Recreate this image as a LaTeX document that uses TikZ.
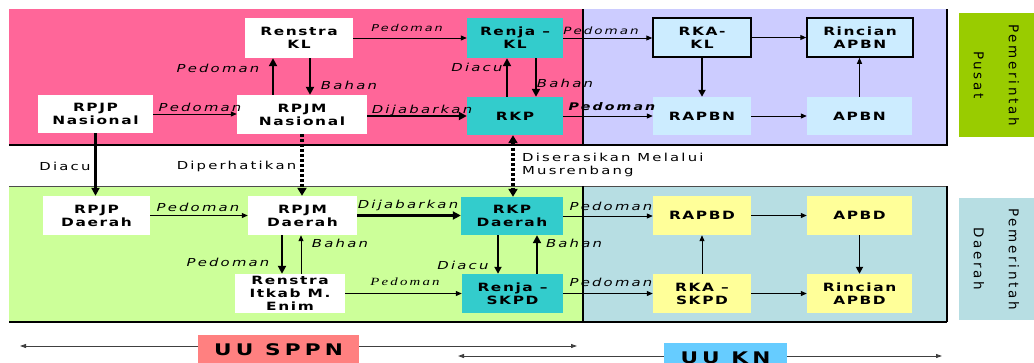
\documentclass[tikz,border=0pt]{standalone}
\usepackage{fontspec}
\setmainfont{DejaVu Sans}
\newfontfamily\bfam{DejaVu Sans}[FakeStretch=1.35,LetterSpace=14]
\newfontfamily\lfam{DejaVu Sans}[FakeStretch=1.35,LetterSpace=20]
\newfontfamily\sfam{Liberation Serif}[FakeStretch=1.35,LetterSpace=20]
\newfontfamily\ufam{DejaVu Sans}[FakeStretch=1.35,LetterSpace=26]
\newfontfamily\pfam{DejaVu Sans}[LetterSpace=20]
\usetikzlibrary{arrows.meta,calc}
\definecolor{cpink}{HTML}{FF6699}
\definecolor{clav}{HTML}{CCCCFF}
\definecolor{cgreen}{HTML}{CCFF99}
\definecolor{cblue}{HTML}{B7DEE3}
\definecolor{cteal}{HTML}{33CCCC}
\definecolor{clblue}{HTML}{CCECFF}
\definecolor{cyel}{HTML}{FFFF99}
\definecolor{cpusat}{HTML}{99CC00}
\definecolor{csppn}{HTML}{FF8080}
\definecolor{ckn}{HTML}{66CCFF}
\tikzset{
  box/.style={inner sep=0pt, align=center, font=\bfam\bfseries\fontsize{11.4}{13}\selectfont},
  wbox/.style={box, fill=white},
  tbox/.style={box, fill=cteal},
  lbbox/.style={box, fill=clblue},
  ybox/.style={box, fill=cyel},
  thn/.style={line width=1pt, -{Triangle[length=6pt,width=5pt]}},
  thm/.style={line width=1.8pt, -{Triangle[length=7pt,width=7pt]}},
  thk/.style={line width=2.6pt, -{Triangle[length=8pt,width=8pt]}},
  dotl/.style={line width=3.5pt, dash pattern=on 3pt off 2pt},
  lab/.style={inner sep=0pt, font=\lfam\itshape\fontsize{11}{13}\selectfont},
  slab/.style={inner sep=0pt, font=\lfam\itshape\fontsize{9.5}{11}\selectfont},
  reg/.style={inner sep=0pt, font=\lfam\fontsize{11}{13}\selectfont},
  law/.style={line width=0.9pt, draw=black!75, -{Triangle[length=6pt,width=4pt]}},
  pem/.style={rotate=-90, inner sep=0pt, align=center, font=\pfam\fontsize{13.5}{35}\selectfont},
}
\begin{document}
\begin{tikzpicture}[x=1pt,y=-1pt]
\useasboundingbox (0,0) rectangle (1034,362);
% panels
\fill[cpink] (9,9) rectangle (583,145);
\fill[clav] (583,9) rectangle (947,145);
\draw[line width=1.2pt] (9,145) -- (947,145) -- (947,9);
\draw[line width=2pt] (583,9) -- (583,145);
\fill[cgreen] (9,186) rectangle (583,322);
\fill[cblue] (583,186) rectangle (947,322);
\draw[line width=0.8pt, black!70] (9,186) -- (947,186);
\draw[line width=1.2pt] (9,322) -- (947,322);
\draw[line width=1.2pt] (947,186) -- (947,322);
\draw[line width=2pt] (583,186) -- (583,322);
% side labels
\node[pem, fill=cpusat, minimum width=124pt, minimum height=75pt] (pusat) at (996.5,75) {Pemerintah\\Pusat};
\node[pem, fill=cblue, minimum width=122pt, minimum height=75pt] (daerah) at (996.5,259) {Pemerintah\\Daerah};
% upper nodes
\node[wbox, minimum width=108pt, minimum height=40pt] (renstraKL) at (299,38) {Renstra\\KL};
\node[wbox, minimum width=115pt, minimum height=38pt] (rpjpN) at (95.5,114) {RPJP\\Nasional};
\node[wbox, minimum width=130pt, minimum height=39pt] (rpjmN) at (302,114.5) {RPJM\\Nasional};
\node[tbox, minimum width=96pt, minimum height=40pt] (renjaKL) at (515,38) {Renja –\\KL};
\node[tbox, minimum width=96pt, minimum height=38pt] (rkp) at (515,116) {RKP};
\node[lbbox, draw=black, line width=1.5pt, minimum width=98pt, minimum height=39pt] (rkaKL) at (702,37.5) {RKA-\\KL};
\node[lbbox, draw=black, line width=1.5pt, minimum width=106pt, minimum height=39pt] (rincN) at (860,37.5) {Rincian\\APBN};
\node[lbbox, minimum width=98pt, minimum height=38pt] (rapbn) at (702,116) {RAPBN};
\node[lbbox, minimum width=105pt, minimum height=38pt] (apbn) at (859.5,116) {APBN};
% lower nodes
\node[wbox, minimum width=107pt, minimum height=39pt] (rpjpD) at (96.5,215.5) {RPJP\\Daerah};
\node[wbox, minimum width=109pt, minimum height=39pt] (rpjmD) at (302.5,215.5) {RPJM\\Daerah};
\node[wbox, minimum width=110pt, minimum height=39pt] (renstraD) at (290,293.5) {Renstra\\Itkab M.\\Enim};
\node[tbox, minimum width=102pt, minimum height=38pt] (rkpD) at (512,216) {RKP\\Daerah};
\node[tbox, minimum width=101pt, minimum height=39pt] (renjaS) at (512.5,293.5) {Renja –\\SKPD};
\node[ybox, minimum width=98pt, minimum height=39pt] (rapbd) at (702,215.5) {RAPBD};
\node[ybox, minimum width=105pt, minimum height=39pt] (apbd) at (859.5,215.5) {APBD};
\node[ybox, minimum width=98pt, minimum height=39pt] (rkaS) at (702,293.5) {RKA –\\SKPD};
\node[ybox, minimum width=105pt, minimum height=39pt] (rincD) at (859.5,293.5) {Rincian\\APBD};
% upper connectors
\draw[thn] (rpjpN.east) -- (rpjpN.east -| rpjmN.west);
\draw[thk] ([xshift=-29pt]rpjmN.north) -- ([xshift=-29pt]rpjmN.north |- renstraKL.south);
\draw[thk] ([xshift=11pt]renstraKL.south) -- ([xshift=11pt]renstraKL.south |- rpjmN.north);
\draw[thn] (renstraKL.east) -- (renstraKL.east -| renjaKL.west);
\draw[thk] (rkp.west -| rpjmN.east) -- (rkp.west);
\draw[thk] ([xshift=-8pt]rkp.north) -- ([xshift=-8pt]rkp.north |- renjaKL.south);
\draw[thk] ([xshift=21pt]renjaKL.south) -- ([xshift=21pt]renjaKL.south |- rkp.north);
\draw[thn] (renjaKL.east) -- (renjaKL.east -| rkaKL.west);
\draw[thn] (rkp.east) -- (rkp.east -| rapbn.west);
\draw[thn] (rkaKL.east) -- (rkaKL.east -| rincN.west);
\draw[thm] (rkaKL.south) -- (rapbn.north);
\draw[thn] (rapbn.east) -- (rapbn.east -| apbn.west);
\draw[thn] (apbn.north) -- (apbn.north |- rincN.south);
% between
\draw[thk] (rpjpN.south) -- (rpjpN.south |- rpjpD.north);
\draw[dotl, -{Triangle[length=8pt,width=9pt]}] (rpjmN.south) -- (rpjmN.south |- rpjmD.north);
\draw[dotl, {Triangle[length=8pt,width=9pt]}-{Triangle[length=8pt,width=9pt]}] ([xshift=-2pt]rkp.south) -- ([xshift=-2pt]rkp.south |- rkpD.north);
% lower connectors
\draw[thn] (rpjpD.east) -- (rpjpD.east -| rpjmD.west);
\draw[thk] (rpjmD.east) -- (rpjmD.east -| rkpD.west);
\draw[thk] ([xshift=-20.5pt]rpjmD.south) -- ([xshift=-20.5pt]rpjmD.south |- renstraD.north);
\draw[thn] ([xshift=11pt]renstraD.north) -- ([xshift=11pt]renstraD.north |- rpjmD.south);
\draw[thn] (renstraD.east) -- (renstraD.east -| renjaS.west);
\draw[thm] ([xshift=-14pt]rkpD.south) -- ([xshift=-14pt]rkpD.south |- renjaS.north);
\draw[thk] ([xshift=24.5pt]renjaS.north) -- ([xshift=24.5pt]renjaS.north |- rkpD.south);
\draw[thn] (rkpD.east) -- (rkpD.east -| rapbd.west);
\draw[thn] (renjaS.east) -- (renjaS.east -| rkaS.west);
\draw[thn] (rapbd.east) -- (rapbd.east -| apbd.west);
\draw[thn] (rkaS.north) -- (rapbd.south);
\draw[thm] (apbd.south) -- (rincD.north);
\draw[thn] (rkaS.east) -- (rkaS.east -| rincD.west);
% labels upper
\node[lab] (lp1) at (200,107) {Pedoman};
\node[lab] (lp2) at (218,68) {Pedoman};
\node[lab] (lb1) at (349,85) {Bahan};
\node[slab] (lp3) at (407,28) {Pedoman};
\node[lab] (ld1) at (422,110) {Dijabarkan};
\node[lab] (la1) at (477,67) {Diacu};
\node[lab] (lb2) at (565,83) {Bahan};
\node[lab, font=\lfam\itshape\fontsize{10}{12}\selectfont] (lp4) at (601,31) {Pedoman};
\node[lab, font=\lfam\bfseries\itshape\fontsize{10.5}{12}\selectfont] (lp5) at (612,107) {Pedoman};
\node[reg] (la0) at (65,166) {Diacu};
\node[reg] (ldp) at (236.5,166) {Diperhatikan};
\node[reg, anchor=north west, align=left] (lds) at (522,153) {Diserasikan Melalui\\Musrenbang};
% labels lower
\node[lab] (lp6) at (198,207) {Pedoman};
\node[lab] (ld2) at (408,205) {Dijabarkan};
\node[lab] (lp7) at (228,262) {Pedoman};
\node[lab] (lb3) at (340,243) {Bahan};
\node[inner sep=0pt, font=\sfam\itshape\fontsize{11}{12}\selectfont] (lp8) at (405,282) {Pedoman};
\node[lab] (la2) at (463,265) {Diacu};
\node[lab] (lb4) at (574,243) {Bahan};
\node[lab] (lp9) at (611,206) {Pedoman};
\node[lab] (lp10) at (611,282) {Pedoman};
% laws
\node[fill=csppn, inner sep=0pt, minimum width=161pt, minimum height=30pt, font=\ufam\bfseries\fontsize{16}{16}\selectfont] (sppn) at (278.5,350) {UU SPPN};
\node[fill=ckn, inner sep=0pt, minimum width=123pt, minimum height=30pt, font=\ufam\bfseries\fontsize{16}{16}\selectfont] (kn) at (725.5,358) {UU KN};
\coordinate (sppnL) at (20,346);
\coordinate (sppnR) at (577,346);
\coordinate (knL) at (458,356);
\coordinate (knR) at (942,356);
\draw[law] (sppn.west |- sppnL) -- (sppnL);
\draw[law] (sppn.east |- sppnR) -- (sppnR);
\draw[law] (kn.west |- knL) -- (knL);
\draw[law] (kn.east |- knR) -- (knR);
\end{tikzpicture}
\end{document}
